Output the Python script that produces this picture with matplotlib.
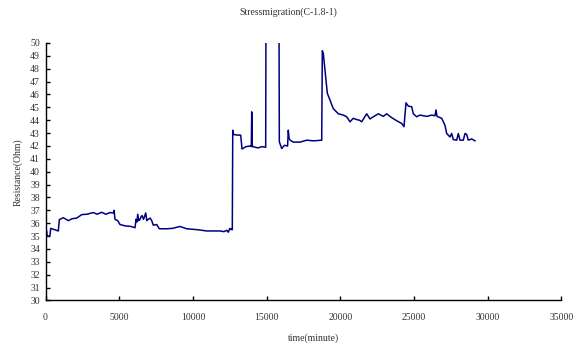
"""
Stress migration resistance trace (C-1.8-1), redrawn from the reference chart.
"""

import matplotlib
matplotlib.use("Agg")
import matplotlib.pyplot as plt

# ---------------------------------------------------------------------------
# Data
# ---------------------------------------------------------------------------
TIME_MIN = [
    0, 80, 110, 250, 300, 353, 600, 868, 936, 1207, 1400, 1547, 1800, 2116,
    2300, 2455, 2800, 3242, 3500, 3800, 4100, 4375, 4600, 4650, 4714, 4900,
    5053, 5392, 5800, 6071, 6139, 6200, 6254, 6330, 6410, 6480, 6546, 6650,
    6797, 6870, 6953, 7100, 7204, 7312, 7543, 7719, 8221, 8600, 9123, 9578,
    10300, 10934, 11400, 11836, 12100, 12300, 12400, 12500, 12580, 12640,
    12670, 12700, 12738, 13000, 13240, 13329, 13600, 13919, 13960, 13987,
    14020, 14055, 14414, 14685, 14935, 14970, 15820, 15860, 16022, 16200,
    16420, 16469, 16520, 16600, 16808, 17263, 17717, 18200, 18735, 18776,
    18843, 18958, 19115, 19298, 19522, 19861, 20200, 20431, 20654, 20878,
    21109, 21300, 21448, 21787, 22011, 22235, 22574, 22913, 23144, 23483,
    23822, 24161, 24317, 24453, 24609, 24839, 24948, 25178, 25402, 25857,
    26196, 26420, 26488, 26556, 26874, 27098, 27213, 27437, 27552, 27661,
    27891, 28000, 28116, 28340, 28455, 28570, 28678, 28909, 29133,
]
RESISTANCE = [
    35.55, 35.4, 35.0, 35.0, 35.05, 35.6, 35.5, 35.4, 36.28, 36.43, 36.3,
    36.2, 36.35, 36.4, 36.55, 36.67, 36.7, 36.83, 36.7, 36.85, 36.7, 36.83,
    36.8, 37.0, 36.3, 36.2, 35.9, 35.8, 35.75, 35.65, 36.3, 36.1, 36.7,
    36.2, 36.3, 36.5, 36.6, 36.3, 36.8, 36.2, 36.3, 36.4, 36.2, 35.85,
    35.9, 35.57, 35.57, 35.6, 35.75, 35.57, 35.5, 35.4, 35.4, 35.4, 35.35,
    35.45, 35.3, 35.6, 35.5, 35.55, 35.5, 43.23, 42.9, 42.85, 42.84, 41.77,
    41.95, 42.0, 41.95, 44.65, 42.1, 41.95, 41.85, 41.95, 41.9, 60.0, 60.0,
    42.32, 41.8, 42.05, 42.0, 43.23, 42.6, 42.45, 42.3, 42.3, 42.45, 42.4,
    42.45, 49.4, 49.2, 47.9, 46.1, 45.56, 44.9, 44.5, 44.4, 44.27, 43.88,
    44.15, 44.05, 44.0, 43.88, 44.5, 44.1, 44.27, 44.5, 44.3, 44.5, 44.2,
    43.96, 43.75, 43.5, 45.35, 45.1, 45.05, 44.5, 44.27, 44.4, 44.3, 44.4,
    44.35, 44.8, 44.3, 44.15, 43.6, 42.97, 42.7, 42.97, 42.5, 42.45, 42.97,
    42.45, 42.45, 42.97, 42.9, 42.45, 42.55, 42.4,
]

X_TICKS = [0, 5000, 10000, 15000, 20000, 25000, 30000, 35000]
Y_TICKS = list(range(30, 51))

TITLE = "Stressmigration(C-1.8-1)"
X_LABEL = "time(minute)"
Y_LABEL = "Resistance(Ohm)"

# ---------------------------------------------------------------------------
# Plot
# ---------------------------------------------------------------------------
plt.rcParams["font.family"] = ["Liberation Serif", "DejaVu Serif"]
TEXT_COLOR = "#333333"

fig = plt.figure(figsize=(5.77, 3.45), dpi=100)
ax = fig.add_axes([0.0789, 0.129, 0.8942, 0.7464])

ax.plot(TIME_MIN, RESISTANCE, color="#000080", linewidth=1.1)

ax.set_xlim(0, 35000)
ax.set_ylim(30, 50)
ax.set_xticks(X_TICKS)
ax.set_yticks(Y_TICKS)
ax.set_xticklabels([str(v) for v in X_TICKS])
ax.set_yticklabels([str(v) for v in Y_TICKS])

ax.spines["top"].set_visible(False)
ax.spines["right"].set_visible(False)
for side in ("left", "bottom"):
    ax.spines[side].set_linewidth(1.0)
    ax.spines[side].set_color("black")

ax.tick_params(axis="both", direction="in", length=3, width=1.0,
               labelsize=7, labelcolor=TEXT_COLOR)
ax.tick_params(axis="y", pad=4)
ax.tick_params(axis="x", pad=9)

ax.set_title(TITLE, fontsize=7, color=TEXT_COLOR, pad=20, x=0.47)
ax.set_xlabel(X_LABEL, fontsize=7, color=TEXT_COLOR, labelpad=12)
ax.set_ylabel(Y_LABEL, fontsize=7, color=TEXT_COLOR, labelpad=5)
ax.xaxis.set_label_coords(0.52, -0.128)

fig.savefig("out.png", dpi=100)
